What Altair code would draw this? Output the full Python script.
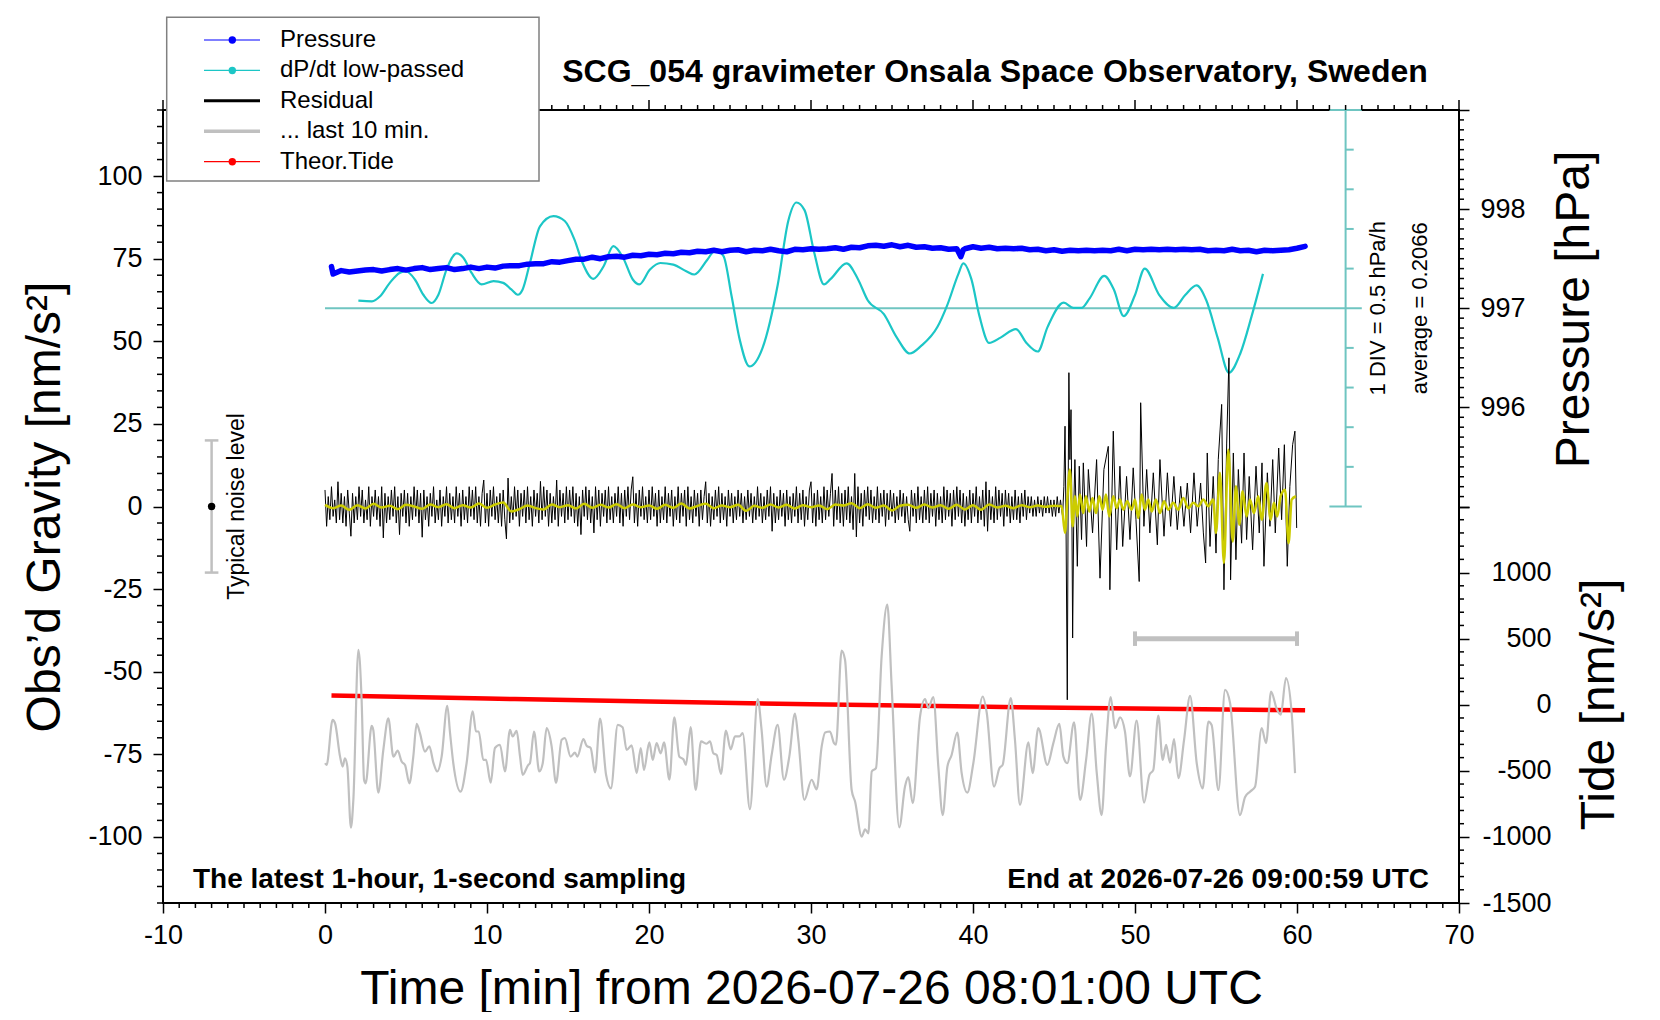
import altair as alt
import numpy as np
import pandas as pd

# ---------------------------------------------------------------------------
# values
# ---------------------------------------------------------------------------

# gravity residual [nm/s^2], quiet part: one value every 0.1 min, 0.0 .. 45.5 min
resid_quiet = [
    5, -6, 3, -4, 6, -3, 2, -5, 7.5, -4,
    4, -5, 3, -6, 5, -2, -9, 4, -5, 3,
    -4, 6, -3, 5, -5, 2, -4, 6, -6, 3,
    -3, 5, -4, 3, -6, 6, -9.5, 4, -5, 3,
    -4, 5, -3, 6, -5, 3, -8.5, 4, -3, 5,
    -5, 4, -6, 3, -4, 6, -3, 5, -5, 4,
    -9.3, 5, -4, 3, -6, 4, -3, 6, -5, 2,
    -4, 5, -6, 3, -3, 6, -5, 4, -4, 3,
    -5, 6, -3, 4, -6, 5, -4, 3, -5, 6,
    -3, 5, -4, 6, -5, 3, -6, 4, 8, -5,
    4, -6, 5, -3, 6, -4, 3, -5, 4, -6,
    5, -4, -9.8, 8.6, -5, 3, -4, 6, -3, 5,
    -6, 4, -3, 5, -5, 6, -4, 3, -6, 5,
    -3, 4, -5, 7.6, -4, 6, -3, 5, -6, 4,
    -5, 3, -4, 8, -6, 5, -3, 4, -5, 6,
    -4, 5, -3, 6, -5, 4, -6, 3, -8.5, 5,
    -3, 6, -4, 5, -5, 3, -8, 6, -4, 5,
    -6, 4, -3, 5, -5, 6, -4, 3, -5, 4,
    -3, 6, -5, 4, -6, 5, -3, 6, -4, 5,
    9, -5, 4, -6, 5, -3, 6, -4, 3, -5,
    5, -4, 6, -3, 4, -6, 5, -5, 3, -4,
    6, -5, 4, -3, 5, -6, 3, -4, 6, -5,
    4, -3, 5, -6, 6, -4, 3, -5, 5, -3,
    4, -6, 5, -4, 3, 7.5, -5, 4, -6, 3,
    -4, 5, -3, 6, -5, 4, -4, 3, -6, 5,
    -3, 4, -5, 3, -4, 5, -3, 4, -5, 3,
    -4, 5, -3, 4, -5, 3, -4, 6, -3, 4,
    -5, 3, -4, 5, -3, 6, -7.5, 4, -5, 3,
    -4, 5, -3, 4, -6, 5, -4, 3, -5, 4,
    -3, 6, -5, 4, -4, 5, -6, 3, -4, 5,
    7.5, -5, 4, -6, 5, -4, 3, -5, 6, -4,
    5, -3, 4, 10, -6, 5, -4, 6, -5, 4,
    -6, 5, -4, 6, -5, 3, -7, 10, -9.2, 6,
    -5, 4, -6, 5, -3, 6, -4, 5, -5, 3,
    -4, 6, -5, 4, -3, 5, -6, 4, -4, 5,
    -3, 4, -5, 3, -4, 5, -3, 4, -5, 3,
    -4, -7.5, 5, -3, 4, -5, 6, -4, 3, -5,
    5, -4, 6, -5, 4, -3, 5, -6, 4, -4,
    3, -5, 6, -4, 5, -3, 4, -6, 5, -4,
    6, -3, 5, -5, 4, -6, 3, -4, 5, -5,
    4, -3, 6, -5, 3, -4, 5, -6, 7.5, -7.5,
    5, -4, 3, -5, 6, -4, 5, -3, 4, -6,
    5, -3, 4, -5, 3, -4, 5, -4, 3, -5,
    4, -3, 5, -4, 3, -2, 3, -3, 2, -3,
    3, -2, 2, -3, 3, -2, 3, -2, 2, -3,
    2, -3, 3, -2, 2, -2,
]

# residual after the earthquake arrival: (time [min], value [nm/s^2])
resid_quake = [
    (45.53, -3.0), (45.61, 6.1), (45.68, 24.3), (45.74, -4.0), (45.82, -58.5),
    (45.88, 9.1), (45.92, 40.5), (45.98, 14.2), (46.05, 29.3), (46.11, -6.0),
    (46.15, -39.8), (46.23, 2.1), (46.29, 14.2), (46.44, -18.1), (46.56, 12.2),
    (46.7, -10.0), (46.81, 13.2), (47.01, -12.1), (47.12, 11.2), (47.38, -8.0),
    (47.63, 14.2), (47.84, -21.7), (48.08, 11.2), (48.35, 18.2), (48.45, -25.2),
    (48.66, 22.8), (48.87, -13.1), (49.07, 12.2), (49.24, -12.1), (49.48, 9.1),
    (49.69, -10.0), (49.89, 11.7), (50.06, -4.0), (50.26, -22.7), (50.35, 31.4),
    (50.55, -6.0), (50.72, 11.2), (50.92, -8.0), (51.13, 10.2), (51.38, -11.6),
    (51.54, 14.2), (51.79, -9.0), (52.0, 10.2), (52.2, -6.0), (52.4, 9.1),
    (52.61, -7.0), (52.82, 6.1), (53.02, -6.0), (53.23, 7.1), (53.43, -8.0),
    (53.64, 10.2), (53.84, -6.0), (54.05, 7.1), (54.22, -8.0), (54.36, -17.1),
    (54.46, 16.2), (54.63, -12.1), (54.83, 9.1), (55.0, -14.1), (55.14, 14.2),
    (55.35, 30.9), (55.49, -25.2), (55.66, 19.2), (55.8, 45.0), (55.9, -22.2),
    (56.07, 16.2), (56.23, -16.1), (56.38, 11.2), (56.58, -11.1), (56.73, 16.2),
    (56.89, -10.0), (57.05, 9.1), (57.26, -13.1), (57.47, 12.2), (57.67, -8.0),
    (57.84, 13.2), (57.96, -18.1), (58.17, 10.2), (58.33, -6.0), (58.5, 14.2),
    (58.66, -8.0), (58.87, 17.7), (59.05, -4.0), (59.22, 18.7), (59.4, -18.1),
    (59.56, 6.1), (59.73, 18.7), (59.87, 22.8), (59.98, -6.5),
]

# low-passed residual (yellow), quiet part: every 0.5 min, 0.0 .. 45.0 min
lowpass_quiet = [
    0.5, -0.5, 0.3, -1.0, 0.4, -0.6, 0.8, -0.3, 0.2, -0.8,
    0.5, 0.0, -0.7, 0.6, -0.2, 0.7, -0.5, 0.4, -0.3, 0.9,
    -0.4, 0.6, 1.2, -1.5, -0.8, 0.3, -0.5, -0.9, 0.6, -0.2,
    0.4, -0.6, 0.8, -0.4, 0.5, -0.3, 0.7, -0.5, 0.6, -0.2,
    0.3, -0.7, 0.5, -0.4, 0.9, -0.6, 0.2, 0.8, -0.5, 0.3,
    -0.2, 0.5, -1.3, 0.2, -0.4, 0.6, -0.3, 0.5, -0.6, 0.4,
    -0.2, 0.3, -0.8, 0.6, 0.3, 1.0, -0.5, 0.7, -0.4, 0.3,
    -1.2, 0.2, 0.5, -0.4, 0.6, -0.3, 0.4, -0.7, 0.5, -0.9,
    0.4, -1.0, 0.6, -0.3, 0.2, -0.5, 0.4, -0.2, 0.3, -0.1,
    0.2,
]

lowpass_quake = [
    (45.47, 0.1), (45.68, -8.0), (45.82, 2.1), (45.98, 11.2), (46.15, -6.0),
    (46.29, 3.1), (46.44, -3.0), (46.6, 3.6), (46.81, -2.0), (46.97, 3.1),
    (47.18, -1.5), (47.38, 2.6), (47.59, -2.0), (47.8, 3.1), (48.0, -1.0),
    (48.21, 3.6), (48.41, -3.0), (48.66, 3.1), (48.87, -0.5), (49.07, 2.1),
    (49.28, -1.0), (49.52, 1.6), (49.79, -1.0), (50.0, 2.1), (50.2, -3.5),
    (50.41, 3.6), (50.61, -1.0), (50.82, 2.1), (51.03, -1.5), (51.29, 2.1),
    (51.54, -2.0), (51.79, 1.6), (52.05, -1.0), (52.36, 1.1), (52.67, -1.0),
    (52.98, 2.6), (53.29, -0.5), (53.6, 1.1), (53.91, 0.1), (54.22, 2.1),
    (54.52, 0.1), (54.83, 2.1), (55.0, -8.0), (55.24, 10.2), (55.49, -17.1),
    (55.76, 17.2), (56.03, -10.6), (56.23, 6.1), (56.44, -5.5), (56.64, 4.6),
    (56.89, -3.0), (57.1, 2.1), (57.34, -2.0), (57.61, 3.1), (57.82, -4.0),
    (58.12, 7.1), (58.37, -4.0), (58.58, 1.1), (58.78, -3.0), (58.99, 3.1),
    (59.26, 5.1), (59.48, -11.1), (59.67, 2.1), (59.93, 3.1),
]

# "... last 10 min." trace as drawn (grey), in gravity-axis units
last10 = [
    (0.0, -77.7), (0.1, -78.2), (0.47, -64.6), (0.62, -65.6), (0.93, -75.7),
    (1.09, -78.7), (1.23, -76.2), (1.38, -78.7), (1.6, -97.2), (1.75, -88.8),
    (2.06, -43.4), (2.26, -58.5), (2.41, -82.7), (2.51, -83.8), (2.88, -66.4),
    (2.98, -67.6), (3.29, -86.6), (3.6, -73.7), (3.91, -64.1), (4.22, -75.7),
    (4.49, -73.9), (4.73, -77.2), (4.94, -78.2), (5.21, -83.8), (5.45, -75.7),
    (5.66, -65.8), (5.86, -68.6), (6.17, -74.2), (6.44, -72.6), (6.69, -77.5),
    (6.93, -80.2), (7.2, -75.7), (7.55, -60.3), (7.72, -68.6), (7.92, -77.7),
    (8.37, -86.3), (8.74, -77.7), (9.12, -62.0), (9.32, -68.1), (9.49, -68.1),
    (9.77, -76.7), (9.94, -76.7), (10.23, -83.6), (10.49, -73.1), (10.8, -72.1),
    (11.11, -80.2), (11.42, -67.6), (11.58, -69.6), (11.83, -67.9), (12.04, -75.7),
    (12.2, -81.2), (12.55, -78.2), (12.65, -77.7), (12.9, -68.1), (13.23, -80.2),
    (13.44, -77.7), (13.68, -67.1), (13.99, -72.6), (14.26, -83.6), (14.61, -70.6),
    (14.81, -70.1), (15.16, -75.7), (15.43, -74.5), (15.58, -75.7), (15.95, -70.4),
    (16.15, -72.4), (16.4, -73.1), (16.67, -80.5), (16.98, -64.2), (17.35, -81.2),
    (17.65, -85.3), (18.07, -66.1), (18.37, -66.8), (18.62, -73.7), (18.93, -72.3),
    (19.24, -80.7), (19.49, -73.1), (19.69, -79.7), (20.02, -71.4), (20.23, -76.7),
    (20.47, -71.6), (20.72, -74.7), (20.93, -71.4), (21.26, -82.7), (21.56, -63.8),
    (21.87, -75.7), (22.12, -76.5), (22.28, -78.2), (22.57, -66.8), (22.88, -85.8),
    (23.21, -71.1), (23.56, -71.8), (23.77, -71.1), (23.97, -74.7), (24.18, -75.2),
    (24.44, -80.9), (24.75, -67.8), (25.04, -73.5), (25.31, -69.6), (25.58, -69.6),
    (25.78, -68.6), (26.23, -91.6), (26.71, -58.3), (26.95, -67.6), (27.26, -84.8),
    (27.57, -75.2), (27.94, -66.1), (28.33, -82.7), (28.66, -75.7), (29.01, -62.7),
    (29.22, -70.6), (29.59, -88.8), (30.04, -82.7), (30.35, -85.6), (30.66, -72.6),
    (30.87, -68.4), (31.17, -68.1), (31.42, -71.6), (31.54, -72.1), (31.89, -43.6),
    (32.1, -46.4), (32.51, -85.8), (32.72, -89.3), (33.13, -99.9), (33.34, -97.7),
    (33.54, -98.9), (33.75, -80.2), (34.01, -79.2), (34.36, -45.4), (34.71, -29.7),
    (34.98, -54.5), (35.45, -97.1), (35.8, -84.8), (36.01, -81.9), (36.28, -89.8),
    (36.73, -63.6), (37.04, -58.3), (37.24, -61.0), (37.55, -57.7), (37.86, -78.7),
    (38.13, -93.4), (38.42, -78.7), (38.68, -75.2), (39.03, -68.4), (39.3, -80.7),
    (39.65, -86.6), (40.02, -77.7), (40.6, -57.5), (40.85, -62.5), (41.3, -84.8),
    (41.63, -79.2), (41.83, -78.2), (42.33, -58.0), (42.59, -70.6), (42.9, -90.3),
    (43.42, -71.4), (43.68, -80.7), (44.03, -67.1), (44.59, -78.2), (44.96, -71.6),
    (45.33, -65.8), (45.58, -75.7), (45.82, -77.7), (46.24, -65.3), (46.61, -88.8),
    (46.98, -76.7), (47.33, -62.7), (47.64, -80.7), (47.94, -93.4), (48.21, -72.6),
    (48.5, -57.7), (48.77, -67.1), (49.08, -63.8), (49.38, -68.1), (49.69, -81.7),
    (50.1, -64.8), (50.56, -89.6), (50.89, -81.2), (51.13, -79.7), (51.44, -63.3),
    (51.71, -76.7), (51.92, -72.1), (52.16, -77.5), (52.41, -70.4), (52.68, -82.2),
    (53.03, -70.6), (53.4, -57.3), (53.81, -77.7), (54.18, -85.3), (54.53, -65.1),
    (54.73, -66.1), (55.15, -85.8), (55.56, -55.5), (55.87, -59.5), (56.48, -93.4),
    (56.79, -88.0), (57.1, -86.3), (57.41, -84.8), (57.82, -67.1), (58.09, -71.6),
    (58.4, -56.0), (58.75, -61.3), (59.0, -63.0), (59.32, -51.9), (59.67, -62.5),
    (59.88, -80.7),
]

# air pressure [hPa]
pressure = [
    (0.4, 997.42), (0.5, 997.345), (1.0, 997.38), (1.5, 997.365), (2.0, 997.375),
    (2.5, 997.385), (3.0, 997.39), (3.5, 997.375), (4.0, 997.39), (4.5, 997.40),
    (5.0, 997.385), (5.5, 997.40), (6.0, 997.41), (6.5, 997.39), (7.0, 997.40),
    (7.5, 997.41), (8.0, 997.39), (8.5, 997.40), (9.0, 997.415), (9.5, 997.40),
    (10.0, 997.415), (10.5, 997.405), (11.0, 997.425), (11.5, 997.43), (12.0, 997.43),
    (12.5, 997.445), (13.0, 997.45), (13.5, 997.45), (14.0, 997.47), (14.5, 997.465),
    (15.0, 997.48), (15.5, 997.495), (16.0, 997.495), (16.5, 997.515), (17.0, 997.50),
    (17.5, 997.52), (18.0, 997.525), (18.5, 997.515), (19.0, 997.535), (19.5, 997.53),
    (20.0, 997.545), (20.5, 997.54), (21.0, 997.555), (21.5, 997.55), (22.0, 997.565),
    (22.5, 997.56), (23.0, 997.575), (23.5, 997.57), (24.0, 997.585), (24.5, 997.57),
    (25.0, 997.585), (25.5, 997.59), (26.0, 997.57), (26.5, 997.585), (27.0, 997.58),
    (27.5, 997.595), (28.0, 997.58), (28.5, 997.57), (29.0, 997.595), (29.5, 997.59),
    (30.0, 997.60), (30.5, 997.595), (31.0, 997.60), (31.5, 997.61), (32.0, 997.595),
    (32.5, 997.615), (33.0, 997.61), (33.5, 997.63), (34.0, 997.635), (34.5, 997.625),
    (35.0, 997.64), (35.5, 997.62), (36.0, 997.635), (36.5, 997.615), (37.0, 997.62),
    (37.5, 997.605), (38.0, 997.61), (38.5, 997.595), (39.0, 997.60), (39.25, 997.52),
    (39.4, 997.59), (39.5, 997.60), (40.0, 997.62), (40.5, 997.605), (41.0, 997.615),
    (41.5, 997.60), (42.0, 997.605), (42.5, 997.60), (43.0, 997.605), (43.5, 997.59),
    (44.0, 997.595), (44.5, 997.58), (45.0, 997.59), (45.5, 997.575), (46.0, 997.585),
    (46.5, 997.58), (47.0, 997.585), (47.5, 997.58), (48.0, 997.585), (48.5, 997.58),
    (49.0, 997.595), (49.5, 997.58), (50.0, 997.595), (50.5, 997.59), (51.0, 997.595),
    (51.5, 997.59), (52.0, 997.595), (52.5, 997.59), (53.0, 997.595), (53.5, 997.59),
    (54.0, 997.595), (54.5, 997.58), (55.0, 997.585), (55.5, 997.58), (56.0, 997.595),
    (56.5, 997.58), (57.0, 997.585), (57.5, 997.57), (58.0, 997.585), (58.5, 997.58),
    (59.0, 997.585), (59.5, 997.59), (60.0, 997.605), (60.5, 997.625),
]

# low-passed pressure rate dP/dt [hPa/h]
dpdt = [
    (2.06, 0.302), (2.9, 0.294), (3.4, 0.357), (4.0, 0.527), (4.6, 0.652),
    (5.0, 0.673), (5.55, 0.569), (6.07, 0.377), (6.58, 0.273), (7.0, 0.377),
    (7.5, 0.694), (8.13, 0.898), (8.54, 0.844), (9.05, 0.652), (9.67, 0.507),
    (10.4, 0.548), (11.0, 0.527), (11.5, 0.444), (11.9, 0.377), (12.2, 0.444),
    (12.65, 0.777), (13.27, 1.240), (14.1, 1.369), (14.8, 1.307), (15.4, 1.073),
    (15.9, 0.777), (16.56, 0.577), (17.2, 0.736), (17.8, 0.990), (18.4, 0.844),
    (19.0, 0.569), (19.4, 0.507), (20.06, 0.694), (20.7, 0.777), (21.5, 0.757),
    (22.3, 0.673), (22.8, 0.632), (23.6, 0.819), (24.1, 0.940), (24.6, 0.865),
    (25.1, 0.357), (25.6, -0.189), (26.2, -0.527), (27.0, -0.298), (27.95, 0.507),
    (28.6, 1.311), (29.1, 1.540), (29.6, 1.444), (30.2, 0.907), (30.8, 0.507),
    (31.2, 0.573), (32.2, 0.773), (32.9, 0.573), (33.5, 0.307), (34.5, 0.132),
    (35.3, -0.164), (36.1, -0.364), (36.8, -0.268), (37.8, -0.031), (38.4, 0.240),
    (39.1, 0.640), (39.4, 0.773), (39.9, 0.573), (40.4, 0.107), (41.0, -0.231),
    (41.7, -0.164), (42.65, -0.056), (43.3, -0.231), (44.0, -0.339), (44.6, -0.031),
    (45.6, 0.277), (46.2, 0.211), (46.7, 0.211), (47.2, 0.332), (48.1, 0.615),
    (48.7, 0.440), (49.3, 0.107), (50.0, 0.373), (50.6, 0.707), (51.5, 0.373),
    (52.4, 0.211), (53.1, 0.373), (53.8, 0.494), (54.4, 0.307), (55.1, -0.164),
    (55.8, -0.606), (56.5, -0.364), (57.2, 0.107), (57.9, 0.640),
]
dpdt_avg = 0.2066      # hPa/h
dpdt_div = 0.5         # hPa/h per division

# theoretical tide [nm/s^2]
tide_t = [0.4, 10, 20, 30, 40, 50, 60.5]
tide_v = [70, 47, 24, 4, -14, -29, -42]

noise_level = 20       # nm/s^2
last10_window = [50, 60]

# ---------------------------------------------------------------------------
# styling
# ---------------------------------------------------------------------------
W, H = 1296, 793
FONT = "Liberation Sans"
CYAN = "#1cc6c6"
CYAN_REF = "#6fc5c1"
YELLOW = "#cccc00"
GREY = "#c0c0c0"

x_scale = alt.Scale(domain=[-10, 70], nice=False, zero=False)
x_axis = alt.Axis(
    values=list(range(-10, 71, 10)), labelExpr="'' + datum.value",
    tickSize=10, tickWidth=1.5, tickColor="black", domain=False, grid=False,
    labelFontSize=27, labelPadding=9, labelColor="black", labelFlush=False,
    labelOverlap=False,
    title="Time [min] from 2026-07-26 08:01:00 UTC", titleFontSize=48,
    titleFontWeight="normal", titleColor="black",
    titleX=W / 2, titleY=86, titleAlign="center", titleBaseline="middle",
)


def xq(field):
    return alt.X(f"{field}:Q", scale=x_scale, axis=x_axis)


g_scale = alt.Scale(domain=[-120, 120], nice=False, zero=False)
g_axis = alt.Axis(
    orient="left", values=list(range(-100, 101, 25)), labelExpr="'' + datum.value",
    tickSize=10, tickWidth=1.5, tickColor="black", domain=False, grid=False,
    labelFontSize=27, labelPadding=11, labelColor="black", labelOverlap=False,
    title="Obs’d Gravity [nm/s²]", titleFontSize=48, titleFontWeight="normal",
    titleColor="black", titleAngle=270, titleX=-118, titleY=H / 2,
    titleAlign="center", titleBaseline="middle",
)


def gq(field, axis=True):
    return alt.Y(f"{field}:Q", scale=g_scale, axis=g_axis if axis else None)


p_scale = alt.Scale(domain=[991, 999], nice=False, zero=False)
p_axis = alt.Axis(
    orient="right", values=[995, 996, 997, 998, 999],
    labelExpr="datum.value >= 996 && datum.value <= 998 ? '' + datum.value : ''",
    tickSize=10, tickWidth=1.5, tickColor="black", domain=False, grid=False,
    labelFontSize=27, labelPadding=11, labelAlign="left", labelColor="black",
    labelOverlap=False,
    title="Pressure [hPa]", titleFontSize=48, titleFontWeight="normal",
    titleColor="black", titleAngle=270, titleX=115, titleY=199,
    titleAlign="center", titleBaseline="middle",
)


def pq(field):
    return alt.Y(f"{field}:Q", scale=p_scale, axis=p_axis)


t_scale = alt.Scale(domain=[-1500, 4500], nice=False, zero=False)
t_axis = alt.Axis(
    orient="right", values=list(range(-1500, 1501, 500)),
    labelExpr="datum.value <= 1000 ? '' + datum.value : ''",
    tickSize=10, tickWidth=1.5, tickColor="black", domain=False, grid=False,
    labelFontSize=27, labelPadding=82, labelAlign="right", labelColor="black",
    labelOverlap=False,
    title="Tide [nm/s²]", titleFontSize=48, titleFontWeight="normal",
    titleColor="black", titleAngle=270, titleX=140, titleY=594,
    titleAlign="center", titleBaseline="middle",
)


def tq(field):
    return alt.Y(f"{field}:Q", scale=t_scale, axis=t_axis)


dp_scale = alt.Scale(domain=[dpdt_avg - 15 * dpdt_div, dpdt_avg + 5 * dpdt_div],
                     nice=False, zero=False)


def dq(field):
    return alt.Y(f"{field}:Q", scale=dp_scale, axis=None)


# ---------------------------------------------------------------------------
# tables
# ---------------------------------------------------------------------------
resid_df = pd.DataFrame({
    "t": list(np.round(np.arange(len(resid_quiet)) * 0.1, 2)) + [p[0] for p in resid_quake],
    "v": resid_quiet + [p[1] for p in resid_quake],
})
lowpass_df = pd.DataFrame({
    "t": list(np.arange(len(lowpass_quiet)) * 0.5) + [p[0] for p in lowpass_quake],
    "v": lowpass_quiet + [p[1] for p in lowpass_quake],
})
last10_df = pd.DataFrame(last10, columns=["t", "v"])
press_df = pd.DataFrame(pressure, columns=["t", "p"])
dpdt_df = pd.DataFrame(dpdt, columns=["t", "d"])
tide_df = pd.DataFrame({"t": tide_t, "v": tide_v})
one = pd.DataFrame({"a": [0]})

# tick tables
x_minor = pd.DataFrame({"t": [v for v in range(-10, 71) if v % 10]})
x_major = pd.DataFrame({"t": list(range(-10, 71, 10))})
g_minor = pd.DataFrame({"v": [v for v in range(-120, 121, 5) if v % 25]})
p_vals = np.round(np.arange(995.0, 999.001, 0.1), 1)
p_minor = pd.DataFrame({"p": [v for v in p_vals if abs(v - round(v)) > 1e-6]})
t_minor = pd.DataFrame({"v": [v for v in range(-1500, 1501, 100) if v % 500]})

# dP/dt scale bar
k = np.arange(-5, 6)
div_df = pd.DataFrame({
    "d": dpdt_avg + dpdt_div * k,
    "x0": np.where(np.abs(k) == 5, 62.0, 63.0),
    "x1": np.where(np.abs(k) == 5, 64.0, 63.5),
})
div_df = div_df[k != 0]
bar_df = pd.DataFrame({"x": [63.0], "d0": [dpdt_avg - 5 * dpdt_div], "d1": [dpdt_avg + 5 * dpdt_div]})
avg_df = pd.DataFrame({"x0": [0.0], "x1": [64.0], "d": [dpdt_avg]})
dp_text = pd.DataFrame({
    "t": [65.0, 67.6],
    "d": [dpdt_avg, dpdt_avg],
    "label": [f"1 DIV = {dpdt_div} hPa/h", f"average = {dpdt_avg}"],
})

# ---------------------------------------------------------------------------
# layers
# ---------------------------------------------------------------------------
dp_layer = alt.layer(
    alt.Chart(avg_df).mark_rule(color=CYAN_REF, strokeWidth=2).encode(
        x=xq("x0"), x2="x1", y=dq("d")),
    alt.Chart(bar_df).mark_rule(color=CYAN_REF, strokeWidth=2).encode(
        x=xq("x"), y=dq("d0"), y2="d1"),
    alt.Chart(div_df).mark_rule(color=CYAN_REF, strokeWidth=2).encode(
        x=xq("x0"), x2="x1", y=dq("d")),
    alt.Chart(dpdt_df).mark_line(color=CYAN, strokeWidth=2.2, interpolate="monotone").encode(
        x=xq("t"), y=dq("d")),
    alt.Chart(dp_text).mark_text(angle=270, fontSize=22, color="black",
                                 align="center", baseline="middle").encode(
        x=xq("t"), y=dq("d"), text="label:N"),
)

p_layer = alt.layer(
    alt.Chart(p_minor).mark_rule(color="black", strokeWidth=1.5).encode(
        y=pq("p"), x=alt.value(W), x2=alt.value(W + 5)),
    alt.Chart(press_df).mark_line(color="#0000ff", strokeWidth=5.5, strokeCap="round",
                                  strokeJoin="round").encode(x=xq("t"), y=pq("p")),
)

grav_a = alt.layer(
    alt.Chart(g_minor).mark_rule(color="black", strokeWidth=1.5).encode(
        y=gq("v"), x=alt.value(-6), x2=alt.value(0)),
    alt.Chart(x_minor).mark_rule(color="black", strokeWidth=1.5).encode(
        x=xq("t"), y=alt.value(H), y2=alt.value(H + 5)),
    alt.Chart(x_minor).mark_rule(color="black", strokeWidth=1.5).encode(
        x=xq("t"), y=alt.value(0), y2=alt.value(-5)),
    alt.Chart(x_major).mark_rule(color="black", strokeWidth=1.5).encode(
        x=xq("t"), y=alt.value(0), y2=alt.value(-10)),
    alt.Chart(resid_df).mark_line(color="black", strokeWidth=1).encode(
        x=xq("t"), y=gq("v")),
    alt.Chart(lowpass_df).mark_line(color=YELLOW, strokeWidth=2.5, interpolate="monotone").encode(
        x=xq("t"), y=gq("v")),
)

tide_layer = alt.layer(
    alt.Chart(t_minor).mark_rule(color="black", strokeWidth=1.5).encode(
        y=tq("v"), x=alt.value(W), x2=alt.value(W + 5)),
    alt.Chart(tide_df).mark_line(color="#ff0000", strokeWidth=4.5, interpolate="monotone").encode(
        x=xq("t"), y=tq("v")),
)

noise_df = pd.DataFrame({"t": [-7.0], "lo": [-noise_level], "hi": [noise_level], "c": [0]})
noise_caps = pd.DataFrame({"x0": [-7.42, -7.42], "x1": [-6.58, -6.58], "v": [-noise_level, noise_level]})
win_df = pd.DataFrame({"x0": [last10_window[0]], "x1": [last10_window[1]], "v": [-40.0]})
win_caps = pd.DataFrame({"t": last10_window, "lo": [-42.2, -42.2], "hi": [-37.8, -37.8]})
noise_text = pd.DataFrame({"t": [-5.43], "v": [0.0], "label": ["Typical noise level"]})

grav_b = alt.layer(
    alt.Chart(last10_df).mark_line(color=GREY, strokeWidth=2.2, interpolate="monotone").encode(
        x=xq("t"), y=gq("v", False)),
    alt.Chart(win_df).mark_rule(color=GREY, strokeWidth=5).encode(
        x=xq("x0"), x2="x1", y=gq("v", False)),
    alt.Chart(win_caps).mark_rule(color=GREY, strokeWidth=4).encode(
        x=xq("t"), y=gq("lo", False), y2="hi"),
    alt.Chart(noise_df).mark_rule(color=GREY, strokeWidth=2.5).encode(
        x=xq("t"), y=gq("lo", False), y2="hi"),
    alt.Chart(noise_caps).mark_rule(color=GREY, strokeWidth=2.5).encode(
        x=xq("x0"), x2="x1", y=gq("v", False)),
    alt.Chart(noise_df).mark_point(filled=True, color="black", size=55, opacity=1).encode(
        x=xq("t"), y=gq("c", False)),
    alt.Chart(noise_text).mark_text(angle=270, fontSize=23, color="black",
                                    align="center", baseline="middle").encode(
        x=xq("t"), y=gq("v", False), text="label:N"),
)

texts = alt.layer(
    alt.Chart(one).mark_text(text="SCG_054 gravimeter Onsala Space Observatory, Sweden",
                             fontSize=32, fontWeight="bold", color="black",
                             align="center", baseline="alphabetic").encode(
        x=alt.value(832), y=alt.value(-28)),
    alt.Chart(one).mark_text(text="The latest 1-hour, 1-second sampling",
                             fontSize=28, fontWeight="bold", color="black",
                             align="left", baseline="alphabetic").encode(
        x=alt.value(30), y=alt.value(778)),
    alt.Chart(one).mark_text(text="End at 2026-07-26 09:00:59 UTC",
                             fontSize=28, fontWeight="bold", color="black",
                             align="right", baseline="alphabetic").encode(
        x=alt.value(1266), y=alt.value(778)),
)

legend_df = pd.DataFrame({
    "row": [0, 1, 2, 3, 4],
    "name": ["Pressure", "dP/dt low-passed", "Residual", "... last 10 min.", "Theor.Tide"],
    "color": ["#0000ff", CYAN, "black", GREY, "#ff0000"],
    "width": [1.2, 1.2, 3.0, 3.5, 1.2],
    "dot": [1, 1, 0, 0, 1],
})
row_y = alt.Y("row:Q", scale=alt.Scale(domain=[0, 4], range=[-70, 51.7], nice=False, zero=False),
              axis=None)

legend = alt.layer(
    alt.Chart(one).mark_rect(fill="white", stroke="#808080", strokeWidth=1.5).encode(
        x=alt.value(3.7), x2=alt.value(376), y=alt.value(-92.7), y2=alt.value(71)),
    alt.Chart(legend_df).mark_rule().encode(
        x=alt.value(41), x2=alt.value(97), y=row_y,
        color=alt.Color("color:N", scale=None),
        strokeWidth=alt.StrokeWidth("width:Q", scale=None)),
    alt.Chart(legend_df).transform_filter("datum.dot == 1").mark_point(
        filled=True, size=55, opacity=1).encode(
        x=alt.value(69.3), y=row_y, color=alt.Color("color:N", scale=None)),
    alt.Chart(legend_df).mark_text(align="left", baseline="middle", fontSize=24,
                                   color="black").encode(
        x=alt.value(117), y=row_y, text="name:N"),
)

chart = alt.layer(
    dp_layer, p_layer, grav_a, tide_layer, grav_b, texts, legend
).resolve_scale(
    y="independent"
).properties(
    width=W, height=H,
    padding={"left": 155, "top": 102, "right": 193, "bottom": 109},
    autosize=alt.AutoSizeParams(type="none"),
).configure(
    font=FONT
).configure_view(
    stroke="black", strokeWidth=2
)

chart.save("out.html", embed_options={"renderer": "svg", "actions": False})
